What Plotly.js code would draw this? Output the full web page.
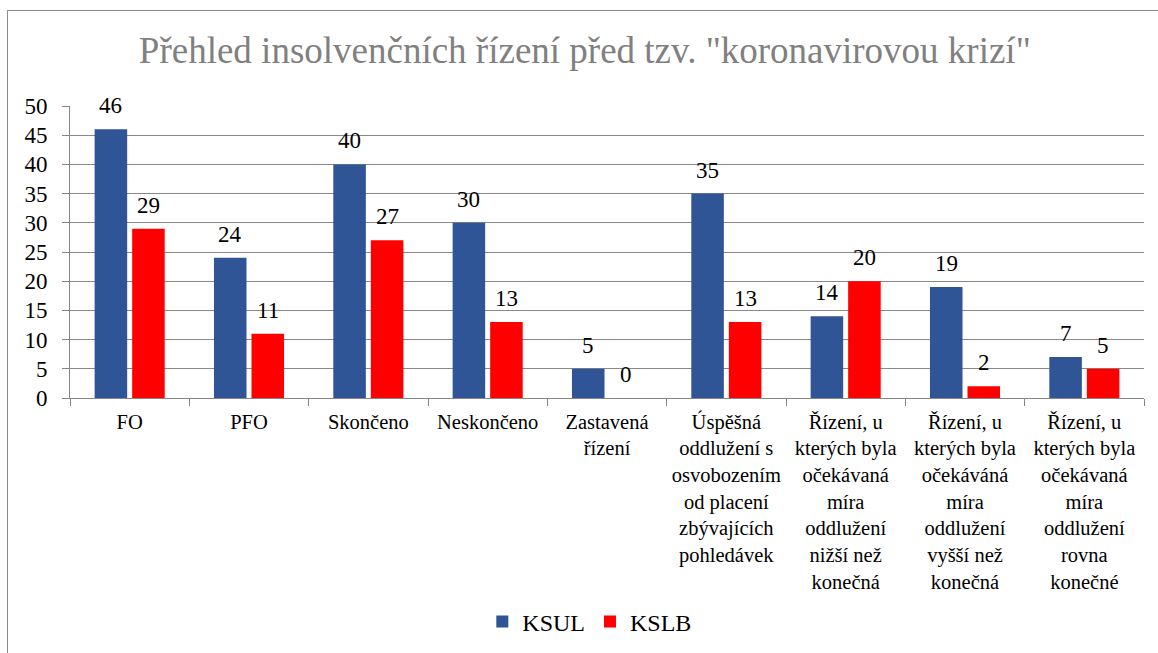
<!DOCTYPE html>
<html>
<head>
<meta charset="utf-8">
<script src="https://cdn.plot.ly/plotly-3.0.1.min.js"></script>
<style>
  html, body { margin: 0; padding: 0; background: #fff; }
  #wrap { position: relative; width: 1158px; height: 653px; }
  #chart { width: 1158px; height: 653px; }
  #frame { position: absolute; left: 7px; top: 10px; width: 1151px; height: 643px;
           border-left: 1px solid #8c8c8c; border-top: 1px solid #8c8c8c;
           box-sizing: border-box; pointer-events: none; }
</style>
</head>
<body>
<div id="wrap">
  <div id="chart"></div>
  <div id="frame"></div>
</div>
<script>
const categories = [
  "FO",
  "PFO",
  "Skončeno",
  "Neskončeno",
  "Zastavená<br>řízení",
  "Úspěšná<br>oddlužení s<br>osvobozením<br>od placení<br>zbývajících<br>pohledávek",
  "Řízení, u<br>kterých byla<br>očekávaná<br>míra<br>oddlužení<br>nižší než<br>konečná",
  "Řízení, u<br>kterých byla<br>očekáváná<br>míra<br>oddlužení<br>vyšší než<br>konečná",
  "Řízení, u<br>kterých byla<br>očekávaná<br>míra<br>oddlužení<br>rovna<br>konečné"
];
const seriesNames = ["KSUL", "KSLB"];
const ksul = [46, 24, 40, 30, 5, 35, 14, 19, 7];
const kslb = [29, 11, 27, 13, 0, 13, 20, 2, 5];
const yTicks = [0, 5, 10, 15, 20, 25, 30, 35, 40, 45, 50];
const colors = ["#2F5597", "#FF0000"];

const serif = "Liberation Serif";
const seriesData = [ksul, kslb];

const traces = seriesData.map((vals, i) => ({
  type: "bar",
  name: seriesNames[i],
  x: categories,
  y: vals,
  marker: { color: colors[i], line: { width: 0 } },
  hoverinfo: "x+y"
}));

// data labels above bars (offset to each bar's slot in the group)
const marginL = 70, marginR = 14;
const plotW = 1158 - marginL - marginR;
const bargap = 0.371;
const slotPx = (plotW / categories.length) * (1 - bargap) / 2;
const annotations = [];
seriesData.forEach((vals, i) => {
  vals.forEach((v, j) => {
    annotations.push({
      x: categories[j], y: v, xref: "x", yref: "y",
      text: String(v), showarrow: false,
      xshift: (i - 0.5) * slotPx, yshift: 9,
      yanchor: "bottom", xanchor: "center",
      font: { family: serif, size: 23, color: "#000" }
    });
  });
});

const layout = {
  width: 1158, height: 653,
  font: { family: serif },
  margin: { l: marginL, r: marginR, t: 106, b: 255 },
  paper_bgcolor: "rgba(0,0,0,0)",
  plot_bgcolor: "#ffffff",
  title: {
    text: 'Přehled insolvenčních řízení před tzv. "koronavirovou krizí"',
    font: { family: serif, size: 37, color: "#808080" },
    x: 0.505, xanchor: "center", xref: "container",
    y: 1 - 50 / 653, yanchor: "middle", yref: "container"
  },
  barmode: "group",
  bargap: bargap,
  bargroupgap: 0.133,
  showlegend: true,
  legend: {
    orientation: "h",
    x: 0.484, xanchor: "center", xref: "paper",
    y: 1 - 622 / 653, yanchor: "middle", yref: "container",
    font: { family: serif, size: 24, color: "#000" },
    itemwidth: 30
  },
  xaxis: {
    type: "category",
    tickson: "boundaries",
    ticks: "outside", ticklen: 7, tickcolor: "#868686",
    showline: true, linecolor: "#868686", linewidth: 1,
    showgrid: false,
    tickangle: 0,
    ticklabelstandoff: 5,
    tickfont: { family: serif, size: 20.5, color: "#000" },
    fixedrange: true
  },
  yaxis: {
    range: [0, 50],
    tickvals: yTicks,
    ticktext: yTicks.map(String),
    ticks: "outside", ticklen: 7, tickcolor: "#868686",
    showline: true, linecolor: "#868686", linewidth: 1,
    showgrid: true, gridcolor: "#898989", gridwidth: 1,
    zeroline: false,
    ticklabelstandoff: 10,
    tickfont: { family: serif, size: 23, color: "#000" },
    fixedrange: true
  },
  annotations: annotations
};

Plotly.newPlot("chart", traces, layout, { displayModeBar: false, staticPlot: true });
</script>
</body>
</html>
